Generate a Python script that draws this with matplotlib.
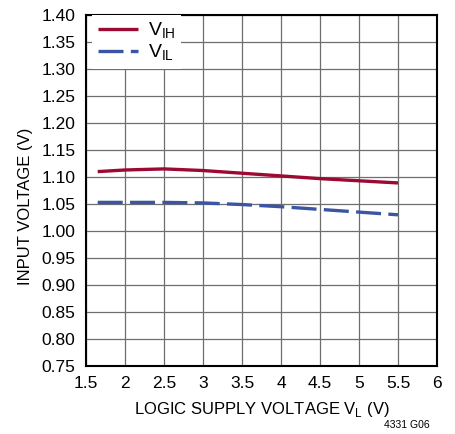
import matplotlib
matplotlib.use("Agg")
import matplotlib.pyplot as plt
import numpy as np

plt.rcParams['font.family'] = ['Liberation Sans Narrow', 'Liberation Sans', 'DejaVu Sans']

# logic supply voltage VL (V)
vl = [1.65, 2.0, 2.5, 3.0, 3.5, 4.0, 4.5, 5.0, 5.5]
# input thresholds (V)
vih = [1.110, 1.113, 1.115, 1.112, 1.107, 1.102, 1.097, 1.093, 1.089]
vil = [1.053, 1.053, 1.053, 1.052, 1.049, 1.045, 1.040, 1.035, 1.030]

xticks = [1.5, 2, 2.5, 3, 3.5, 4, 4.5, 5, 5.5, 6]
xlabels = ['1.5', '2', '2.5', '3', '3.5', '4', '4.5', '5', '5.5', '6']
yticks = np.round(np.arange(0.75, 1.401, 0.05), 2)

fig = plt.figure(figsize=(4.56, 4.34), dpi=100)
ax = fig.add_axes([0.1886, 0.1567, 0.7697, 0.8087])

ax.plot(vl, vih, color='#9c0a34', lw=2.4, solid_capstyle='butt', label='V$_{\\mathregular{IH}}$')
ax.plot(vl, vil, color='#3b55a5', lw=2.4, dashes=(7.5, 2.2), label='V$_{\\mathregular{IL}}$')

ax.set_xlim(1.5, 6)
ax.set_ylim(0.75, 1.40)
ax.set_xticks(xticks)
ax.set_xticklabels(xlabels)
ax.set_yticks(yticks)
ax.set_yticklabels(['%.2f' % v for v in yticks])
ax.tick_params(length=0, labelsize=12.5)
ax.tick_params(axis='x', pad=7.5)
ax.tick_params(axis='y', pad=7.5)
ax.grid(True, color='#6e6e6e', lw=0.9)
ax.set_axisbelow(True)
for s in ax.spines.values():
    s.set_linewidth(1.5)
    s.set_color('black')

ax.set_xlabel('LOGIC SUPPLY VOLTAGE V$_{\\mathregular{L}}$ (V)', fontsize=12, labelpad=6)
ax.set_ylabel('INPUT VOLTAGE (V)', fontsize=12)
ax.yaxis.set_label_coords(-0.151, 0.455)

leg = ax.legend(loc='upper left', bbox_to_anchor=(6 / 351, 1), frameon=True, fontsize=14,
                handlelength=2.06, borderaxespad=0, borderpad=0.3,
                handletextpad=0.5, labelspacing=0.08)
leg.get_frame().set_facecolor('white')
leg.get_frame().set_edgecolor('none')
leg.get_frame().set_alpha(1)
leg.get_frame().set_boxstyle('square', pad=0)

fig.text(430 / 456, 1 - 425 / 434, '4331 G06', fontsize=7.5, ha='right', va='center')

fig.savefig('out.png', dpi=100)
